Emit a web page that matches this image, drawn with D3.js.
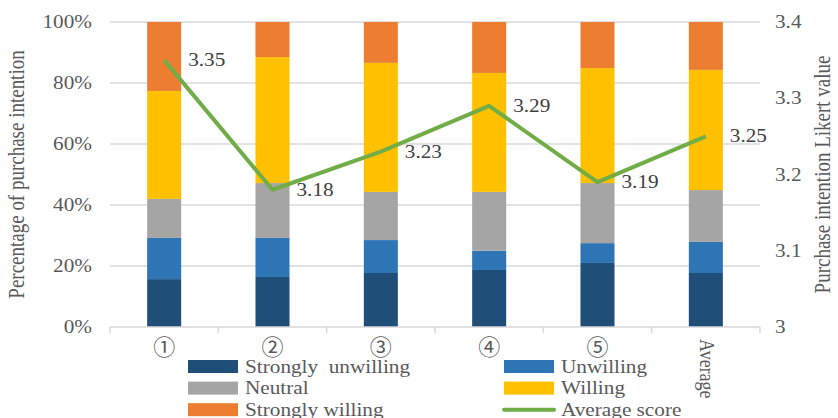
<!DOCTYPE html>
<html><head><meta charset="utf-8">
<script src="https://cdn.jsdelivr.net/npm/d3@7"></script>
<style>body{margin:0;background:#fff}svg{display:block}</style>
</head><body>
<svg id="c" width="838" height="418"></svg>
<script>
const categories = ["①","②","③","④","⑤","Average"];
const stronglyUnwilling = [15.7, 16.4, 17.7, 18.7, 21.0, 17.7];
const unwilling        = [13.5, 12.8, 10.8, 6.3, 6.5, 10.2];
const neutral          = [12.8, 18.0, 15.8, 19.3, 19.7, 17.0];
const willing          = [35.4, 41.3, 42.3, 39.0, 37.7, 39.4];
const stronglyWilling  = [22.6, 11.5, 13.4, 16.7, 15.1, 15.7];
const averageScore     = [3.35, 3.18, 3.23, 3.29, 3.19, 3.25];
const leftTicks = [0, 20, 40, 60, 80, 100];
const rightTicks = [3, 3.1, 3.2, 3.3, 3.4];
const seriesNames = ["Strongly  unwilling","Unwilling","Neutral","Willing","Strongly willing"];
const colors = ["#1F4E79","#2E75B6","#A5A5A5","#FFC000","#ED7D31"];
const lineColor = "#70AD47";

const svg = d3.select("#c");
const font = "Liberation Serif, Times New Roman, DejaVu Serif, serif";
const SX = 1.18; // horizontal stretch of the reference's glyphs
const m = {l:110, r:760, t:22, b:327};
const x = d3.scaleBand().domain(categories).range([m.l, m.r]).paddingInner(0.686).paddingOuter(0.343);
const yL = d3.scaleLinear().domain([0,100]).range([m.b, m.t]);
const yR = d3.scaleLinear().domain([3,3.4]).range([m.b, m.t]);

function htext(parent, tx, ty, str, opts={}) {
  const g = parent.append("g").attr("transform", `translate(${tx},${ty}) scale(${SX},1)`);
  return g.append("text").attr("text-anchor", opts.anchor || "start")
    .style("font-family", opts.family || font).attr("font-size", opts.size || 18)
    .attr("fill", opts.fill || "#595959").style("white-space","pre").text(str);
}

svg.append("g").selectAll("line").data(leftTicks.slice(1)).join("line")
  .attr("x1", m.l).attr("x2", m.r).attr("y1", d=>yL(d)).attr("y2", d=>yL(d))
  .attr("stroke","#d9d9d9").attr("stroke-width",1.5);

const seriesData = [stronglyUnwilling, unwilling, neutral, willing, stronglyWilling];
const rows = categories.map((c,i)=>{const o={cat:c}; seriesData.forEach((s,k)=>o["s"+k]=s[i]); return o;});
const stack = d3.stack().keys(seriesData.map((s,k)=>"s"+k))(rows);
svg.append("g").selectAll("g").data(stack).join("g").attr("fill",(d,i)=>colors[i])
  .selectAll("rect").data(d=>d).join("rect")
  .attr("x", d=>x(d.data.cat)).attr("width", x.bandwidth())
  .attr("y", d=>yL(Math.min(100,d[1]))).attr("height", d=>yL(d[0])-yL(Math.min(100,d[1])));

const bx = svg.append("g");
bx.append("line").attr("x1",m.l).attr("x2",m.r).attr("y1",m.b).attr("y2",m.b).attr("stroke","#d9d9d9").attr("stroke-width",1.5);
const bounds = d3.range(categories.length+1).map(i=>m.l + i*(m.r-m.l)/categories.length);
bx.selectAll("line.t").data(bounds).join("line").attr("class","t")
  .attr("x1",d=>d).attr("x2",d=>d).attr("y1",m.b).attr("y2",m.b+6).attr("stroke","#d9d9d9").attr("stroke-width",1.5);

categories.forEach((c,i)=>{
  const cx = x(c)+x.bandwidth()/2;
  if (c === "Average") {
    svg.append("g").attr("transform",`translate(${cx-6},${339}) rotate(90) scale(1,${SX})`)
      .append("text").style("font-family",font).attr("font-size",18).attr("fill","#595959").text(c);
  } else {
    svg.append("text").attr("x",cx).attr("y",355).attr("text-anchor","middle")
      .style("font-family","Noto Sans CJK SC, Noto Sans CJK JP, DejaVu Sans, sans-serif")
      .attr("font-size",22).attr("fill","#595959").text(c);
  }
});

const la = svg.append("g");
leftTicks.forEach(d=>htext(la, 92, yL(d)+6, d+"%", {anchor:"end"}));
const ra = svg.append("g");
rightTicks.forEach(d=>htext(ra, 775, yR(d)+6, d3.format("")(d)));

svg.append("g").attr("transform",`translate(24,${(m.t+m.b)/2}) rotate(-90) scale(1,${SX})`)
  .append("text").attr("text-anchor","middle")
  .style("font-family",font).attr("font-size",19).attr("fill","#595959").text("Percentage of purchase intention");
svg.append("g").attr("transform",`translate(830,${(m.t+m.b)/2}) rotate(-90) scale(1,${SX})`)
  .append("text").attr("text-anchor","middle")
  .style("font-family",font).attr("font-size",19).attr("fill","#595959").text("Purchase intention Likert value");

const line = d3.line().x((d,i)=>x(categories[i])+x.bandwidth()/2).y(d=>yR(d));
svg.append("path").datum(averageScore).attr("d",line).attr("fill","none")
  .attr("stroke",lineColor).attr("stroke-width",4).attr("stroke-linejoin","round");
const dl = svg.append("g");
averageScore.forEach((d,i)=>htext(dl, x(categories[i])+x.bandwidth()/2+24, yR(d)+6, d.toFixed(2), {fill:"#404040"}));

const legendItems = [
  {name:seriesNames[0], color:colors[0], col:0, row:0},
  {name:seriesNames[1], color:colors[1], col:1, row:0},
  {name:seriesNames[2], color:colors[2], col:0, row:1},
  {name:seriesNames[3], color:colors[3], col:1, row:1},
  {name:seriesNames[4], color:colors[4], col:0, row:2},
  {name:"Average score", color:lineColor, col:1, row:2, line:true}
];
const lg = svg.append("g");
legendItems.forEach(it=>{
  const lx = it.col ? 504 : 188;
  const ly = 366.5 + it.row*21.6;
  if (it.line) {
    lg.append("line").attr("x1",lx).attr("x2",lx+50).attr("y1",ly).attr("y2",ly)
      .attr("stroke",it.color).attr("stroke-width",4).attr("stroke-linecap","round");
  } else {
    lg.append("rect").attr("x",lx).attr("y",ly-6.5).attr("width",50).attr("height",13).attr("fill",it.color);
  }
  htext(lg, lx+57, ly+6, it.name);
});
</script>
</body></html>
